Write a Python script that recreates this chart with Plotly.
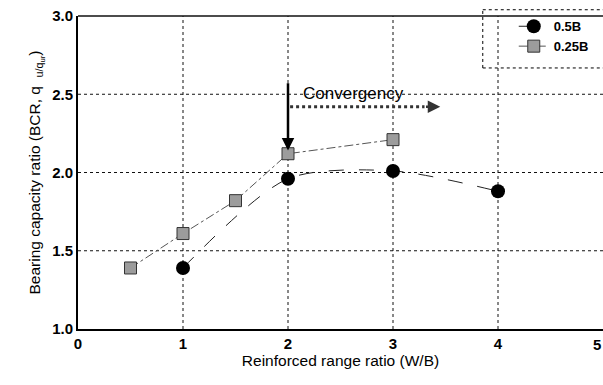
import plotly.graph_objects as go

# Bearing capacity ratio vs. reinforced range ratio
x_05b = [1, 2, 3, 4]
bcr_05b = [1.39, 1.96, 2.01, 1.88]

x_025b = [0.5, 1, 1.5, 2, 3]
bcr_025b = [1.39, 1.61, 1.82, 2.12, 2.21]

x_ticks = [0, 1, 2, 3, 4, 5]
y_ticks = [1.0, 1.5, 2.0, 2.5, 3.0]

FONT = "Liberation Sans, Arial, sans-serif"
GRID_DASH = "3px,3px"

fig = go.Figure()

fig.add_trace(go.Scatter(
    x=x_05b, y=bcr_05b, name="<b>0.5B</b>", mode="lines+markers",
    line=dict(color="#222222", width=1, dash="longdash", shape="spline", smoothing=0.8),
    marker=dict(symbol="circle", size=14, color="black"),
))
fig.add_trace(go.Scatter(
    x=x_025b, y=bcr_025b, name="<b>0.25B</b>", mode="lines+markers",
    line=dict(color="#555555", width=1, dash="dashdot"),
    marker=dict(symbol="square", size=12, color="#9c9c9c",
                line=dict(color="#333333", width=1)),
))

# "Convergency" arrows
fig.add_annotation(x=2, y=2.14, ax=2, ay=2.58, xref="x", yref="y", axref="x", ayref="y",
                   showarrow=True, arrowhead=2, arrowsize=1, arrowwidth=2.5,
                   arrowcolor="black", text="")
fig.add_shape(type="line", x0=2.02, y0=2.42, x1=3.3, y1=2.42, xref="x", yref="y",
              line=dict(color="#333333", width=3, dash="dot"))
fig.add_annotation(x=3.45, y=2.42, ax=3.3, ay=2.42, xref="x", yref="y", axref="x", ayref="y",
                   showarrow=True, arrowhead=2, arrowsize=1, arrowwidth=2.5,
                   arrowcolor="#333333", text="")
fig.add_annotation(x=2.62, y=2.505, xref="x", yref="y", text="Convergency",
                   showarrow=False, font=dict(family=FONT, size=17, color="black"))

# Last x tick label sits on the window edge
fig.add_annotation(x=5, y=-0.015, xref="x", yref="paper", xanchor="right", yanchor="top",
                   text="<b>5</b>", showarrow=False,
                   font=dict(family=FONT, size=15, color="black"))

# Dashed grid lines drawn as shapes
for xv in x_ticks[1:-1]:
    fig.add_shape(type="line", xref="x", yref="paper", x0=xv, x1=xv, y0=0, y1=1,
                  line=dict(color="#111111", width=1, dash=GRID_DASH), layer="below")
for yv in y_ticks[1:-1]:
    fig.add_shape(type="line", xref="paper", yref="y", x0=0, x1=1, y0=yv, y1=yv,
                  line=dict(color="#111111", width=1, dash=GRID_DASH), layer="below")

# Top frame line
fig.add_shape(type="line", xref="paper", yref="paper", x0=0, y0=1, x1=1, y1=1,
              line=dict(color="#111111", width=1.5))

# Legend frame (open on the right edge)
fig.add_shape(type="line", xref="paper", yref="paper", x0=0.771, x1=1.0, y0=0.834, y1=0.834,
              line=dict(color="black", width=1, dash="dot"))
fig.add_shape(type="line", xref="paper", yref="paper", x0=0.771, x1=1.0, y0=1.02, y1=1.02,
              line=dict(color="black", width=1, dash="dot"))
fig.add_shape(type="line", xref="paper", yref="paper", x0=0.771, x1=0.771, y0=0.834, y1=1.02,
              line=dict(color="black", width=1, dash="dot"))

fig.update_layout(
    width=603, height=385,
    margin=dict(l=78, r=0, t=16, b=56),
    paper_bgcolor="white", plot_bgcolor="white",
    font=dict(family=FONT, color="black"),
    showlegend=True,
    legend=dict(x=0.83, y=1.015, xanchor="left", yanchor="top",
                bgcolor="rgba(255,255,255,0)", borderwidth=0,
                font=dict(family=FONT, size=13, color="black"),
                itemwidth=30, tracegroupgap=4),
)
fig.update_xaxes(
    range=[0, 5], tickvals=x_ticks[:-1], ticktext=[f"<b>{v}</b>" for v in x_ticks[:-1]],
    showgrid=False, showline=True, linecolor="black", linewidth=1.5, mirror=False,
    ticks="", zeroline=False,
    tickfont=dict(family=FONT, size=15, color="black"),
    title=dict(text="Reinforced range ratio (W/B)", font=dict(family=FONT, size=15.5), standoff=4),
)
fig.update_yaxes(
    range=[1.0, 3.0], tickvals=y_ticks, ticktext=[f"<b>{v:.1f}</b>" for v in y_ticks],
    showgrid=False, showline=True, linecolor="black", linewidth=2, mirror=False,
    ticks="", zeroline=False,
    tickfont=dict(family=FONT, size=15, color="black"),
    title=dict(text="Bearing capacity ratio (BCR, q  <sub>u/q<sub>ur</sub></sub>)",
               font=dict(family=FONT, size=15.5), standoff=8),
)

fig.write_html("out.html")
